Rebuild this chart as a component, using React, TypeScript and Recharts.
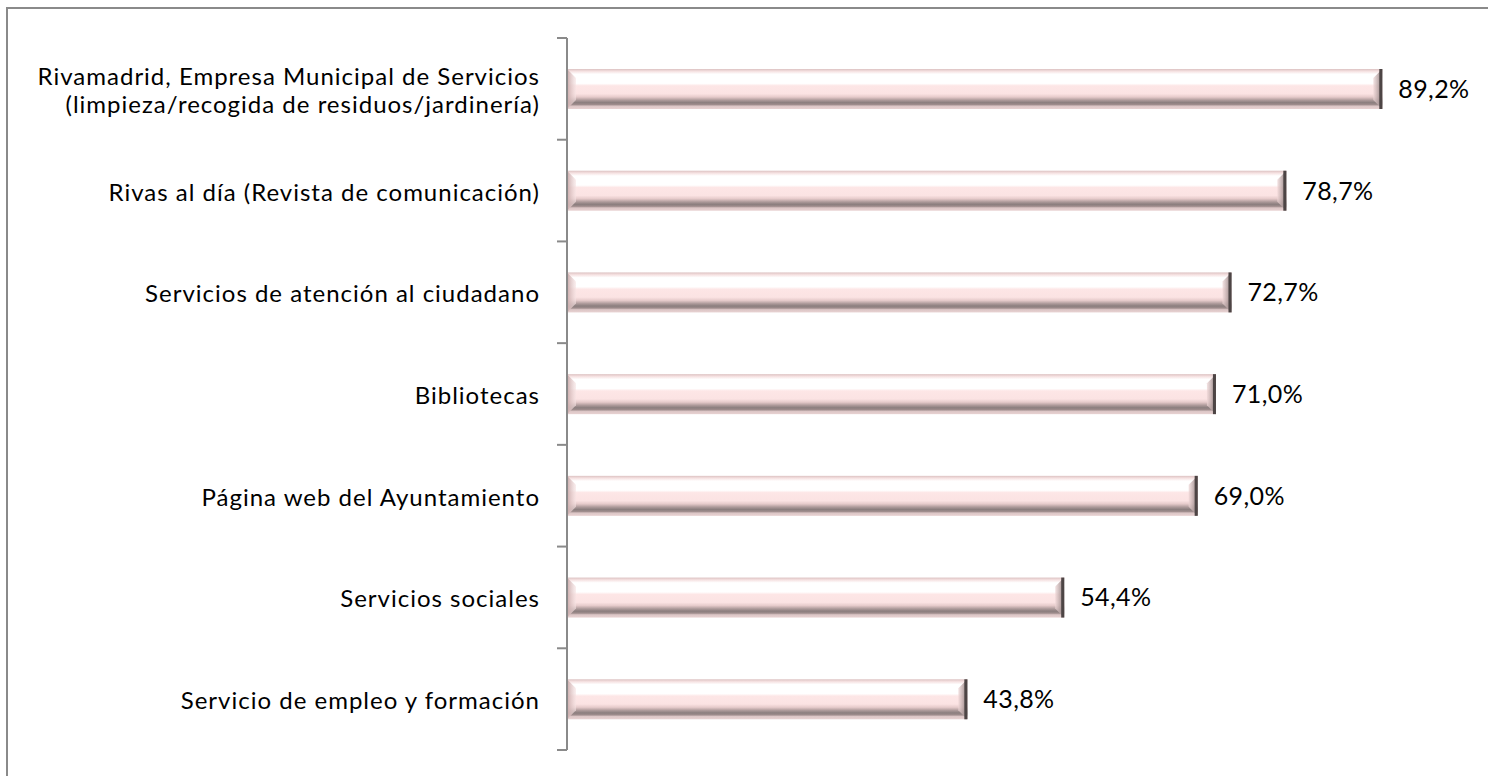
import { BarChart, Bar, XAxis, YAxis, LabelList } from 'recharts';

const categories = [
    'Rivamadrid, Empresa Municipal de Servicios\n(limpieza/recogida de residuos/jardinería)',
    'Rivas al día (Revista de comunicación)',
    'Servicios de atención al ciudadano',
    'Bibliotecas',
    'Página web del Ayuntamiento',
    'Servicios sociales',
    'Servicio de empleo y formación',
];

const values = [89.2, 78.7, 72.7, 71.0, 69.0, 54.4, 43.8];

const data = categories.map((name, i) => ({ name, value: values[i] }));

const FONT = 'Lato, "Liberation Sans", sans-serif';
const PLOT_TOP = 38;
const PLOT_BOTTOM = 750;

const fmt = (v: any) => `${Number(v).toFixed(1).replace('.', ',')}%`;

const CategoryTick = (props: any) => {
    const { x, y, payload, index } = props;
    const band = (PLOT_BOTTOM - PLOT_TOP) / categories.length;
    const lines = String(payload.value).split('\n');
    const lh = 28;
    const startY = y - ((lines.length - 1) * lh) / 2;
    const axisX = x + 8;
    return (
        <g>
            <line x1={axisX - 10} x2={axisX} y1={y - band / 2} y2={y - band / 2} stroke="#8a8a8a" strokeWidth={2} />
            {index === categories.length - 1 && (
                <line x1={axisX - 10} x2={axisX} y1={y + band / 2} y2={y + band / 2} stroke="#8a8a8a" strokeWidth={2} />
            )}
            <text x={x - 19} y={startY} textAnchor="end" dominantBaseline="central" fontFamily={FONT} fontSize={24} letterSpacing={1} fill="#000">
                {lines.map((l, i) => (
                    <tspan key={i} x={x - 19} y={startY + i * lh}>{l}</tspan>
                ))}
            </text>
        </g>
    );
};

const BevelBar = (props: any) => {
    const { x, y, width, height } = props;
    if (!width || width <= 0) return null;
    const b = 9;
    return (
        <g>
            <rect x={x} y={y} width={width} height={height} fill="url(#barV)" />
            <polygon points={`${x},${y} ${x + b},${y + b} ${x + b},${y + height - b} ${x},${y + height}`} fill="url(#barL)" />
            <polygon points={`${x + width},${y} ${x + width - b},${y + b} ${x + width - b},${y + height - b} ${x + width},${y + height}`} fill="url(#barR)" />
            <rect x={x + width - 3} y={y} width={3} height={height} fill="#4d4545" />
        </g>
    );
};

export default function App() {
    return (
        <div style={{ position: 'absolute', left: 0, top: 0, width: 1488, height: 776, overflow: 'hidden', background: '#fff' }}>
            <div style={{ position: 'absolute', left: 6, top: 7, width: 1490, height: 780, border: '2px solid #8a8a8a', boxSizing: 'border-box' }} />
            <div style={{ position: 'absolute', left: 0, top: 0 }}>
                <BarChart
                    width={1488}
                    height={776}
                    data={data}
                    layout="vertical"
                    margin={{ top: PLOT_TOP, right: 7, bottom: 776 - PLOT_BOTTOM, left: 0 }}
                    barCategoryGap={0}
                >
                    <defs>
                        <linearGradient id="barV" x1="0" y1="0" x2="0" y2="1">
                            <stop offset="0" stopColor="#dcc2c2" />
                            <stop offset="0.06" stopColor="#f6e2e2" />
                            <stop offset="0.13" stopColor="#ffffff" />
                            <stop offset="0.36" stopColor="#ffffff" />
                            <stop offset="0.42" stopColor="#fde6e6" />
                            <stop offset="0.62" stopColor="#fbe3e3" />
                            <stop offset="0.7" stopColor="#e6cbcb" />
                            <stop offset="0.78" stopColor="#ad9a9a" />
                            <stop offset="0.84" stopColor="#8b7e7e" />
                            <stop offset="0.89" stopColor="#9e8c8c" />
                            <stop offset="0.93" stopColor="#dcc6c6" />
                            <stop offset="1" stopColor="#e8d2d2" />
                        </linearGradient>
                        <linearGradient id="barL" x1="0" y1="0" x2="1" y2="0">
                            <stop offset="0" stopColor="#c9aaaa" />
                            <stop offset="1" stopColor="#f7e4e4" stopOpacity={0.6} />
                        </linearGradient>
                        <linearGradient id="barR" x1="0" y1="0" x2="1" y2="0">
                            <stop offset="0" stopColor="#eed6d6" stopOpacity={0.7} />
                            <stop offset="1" stopColor="#8a7a7a" />
                        </linearGradient>
                    </defs>
                    <XAxis type="number" domain={[0, 100]} hide />
                    <YAxis
                        type="category"
                        dataKey="name"
                        width={567}
                        axisLine={{ stroke: '#8a8a8a', strokeWidth: 2 }}
                        tickLine={false}
                        tick={<CategoryTick />}
                        interval={0}
                    />
                    <Bar dataKey="value" barSize={40} shape={<BevelBar />} isAnimationActive={false}>
                        <LabelList dataKey="value" position="right" offset={16} formatter={fmt} fontFamily={FONT} fontSize={25} letterSpacing={0.4} fill="#000" />
                    </Bar>
                </BarChart>
            </div>
        </div>
    );
}
